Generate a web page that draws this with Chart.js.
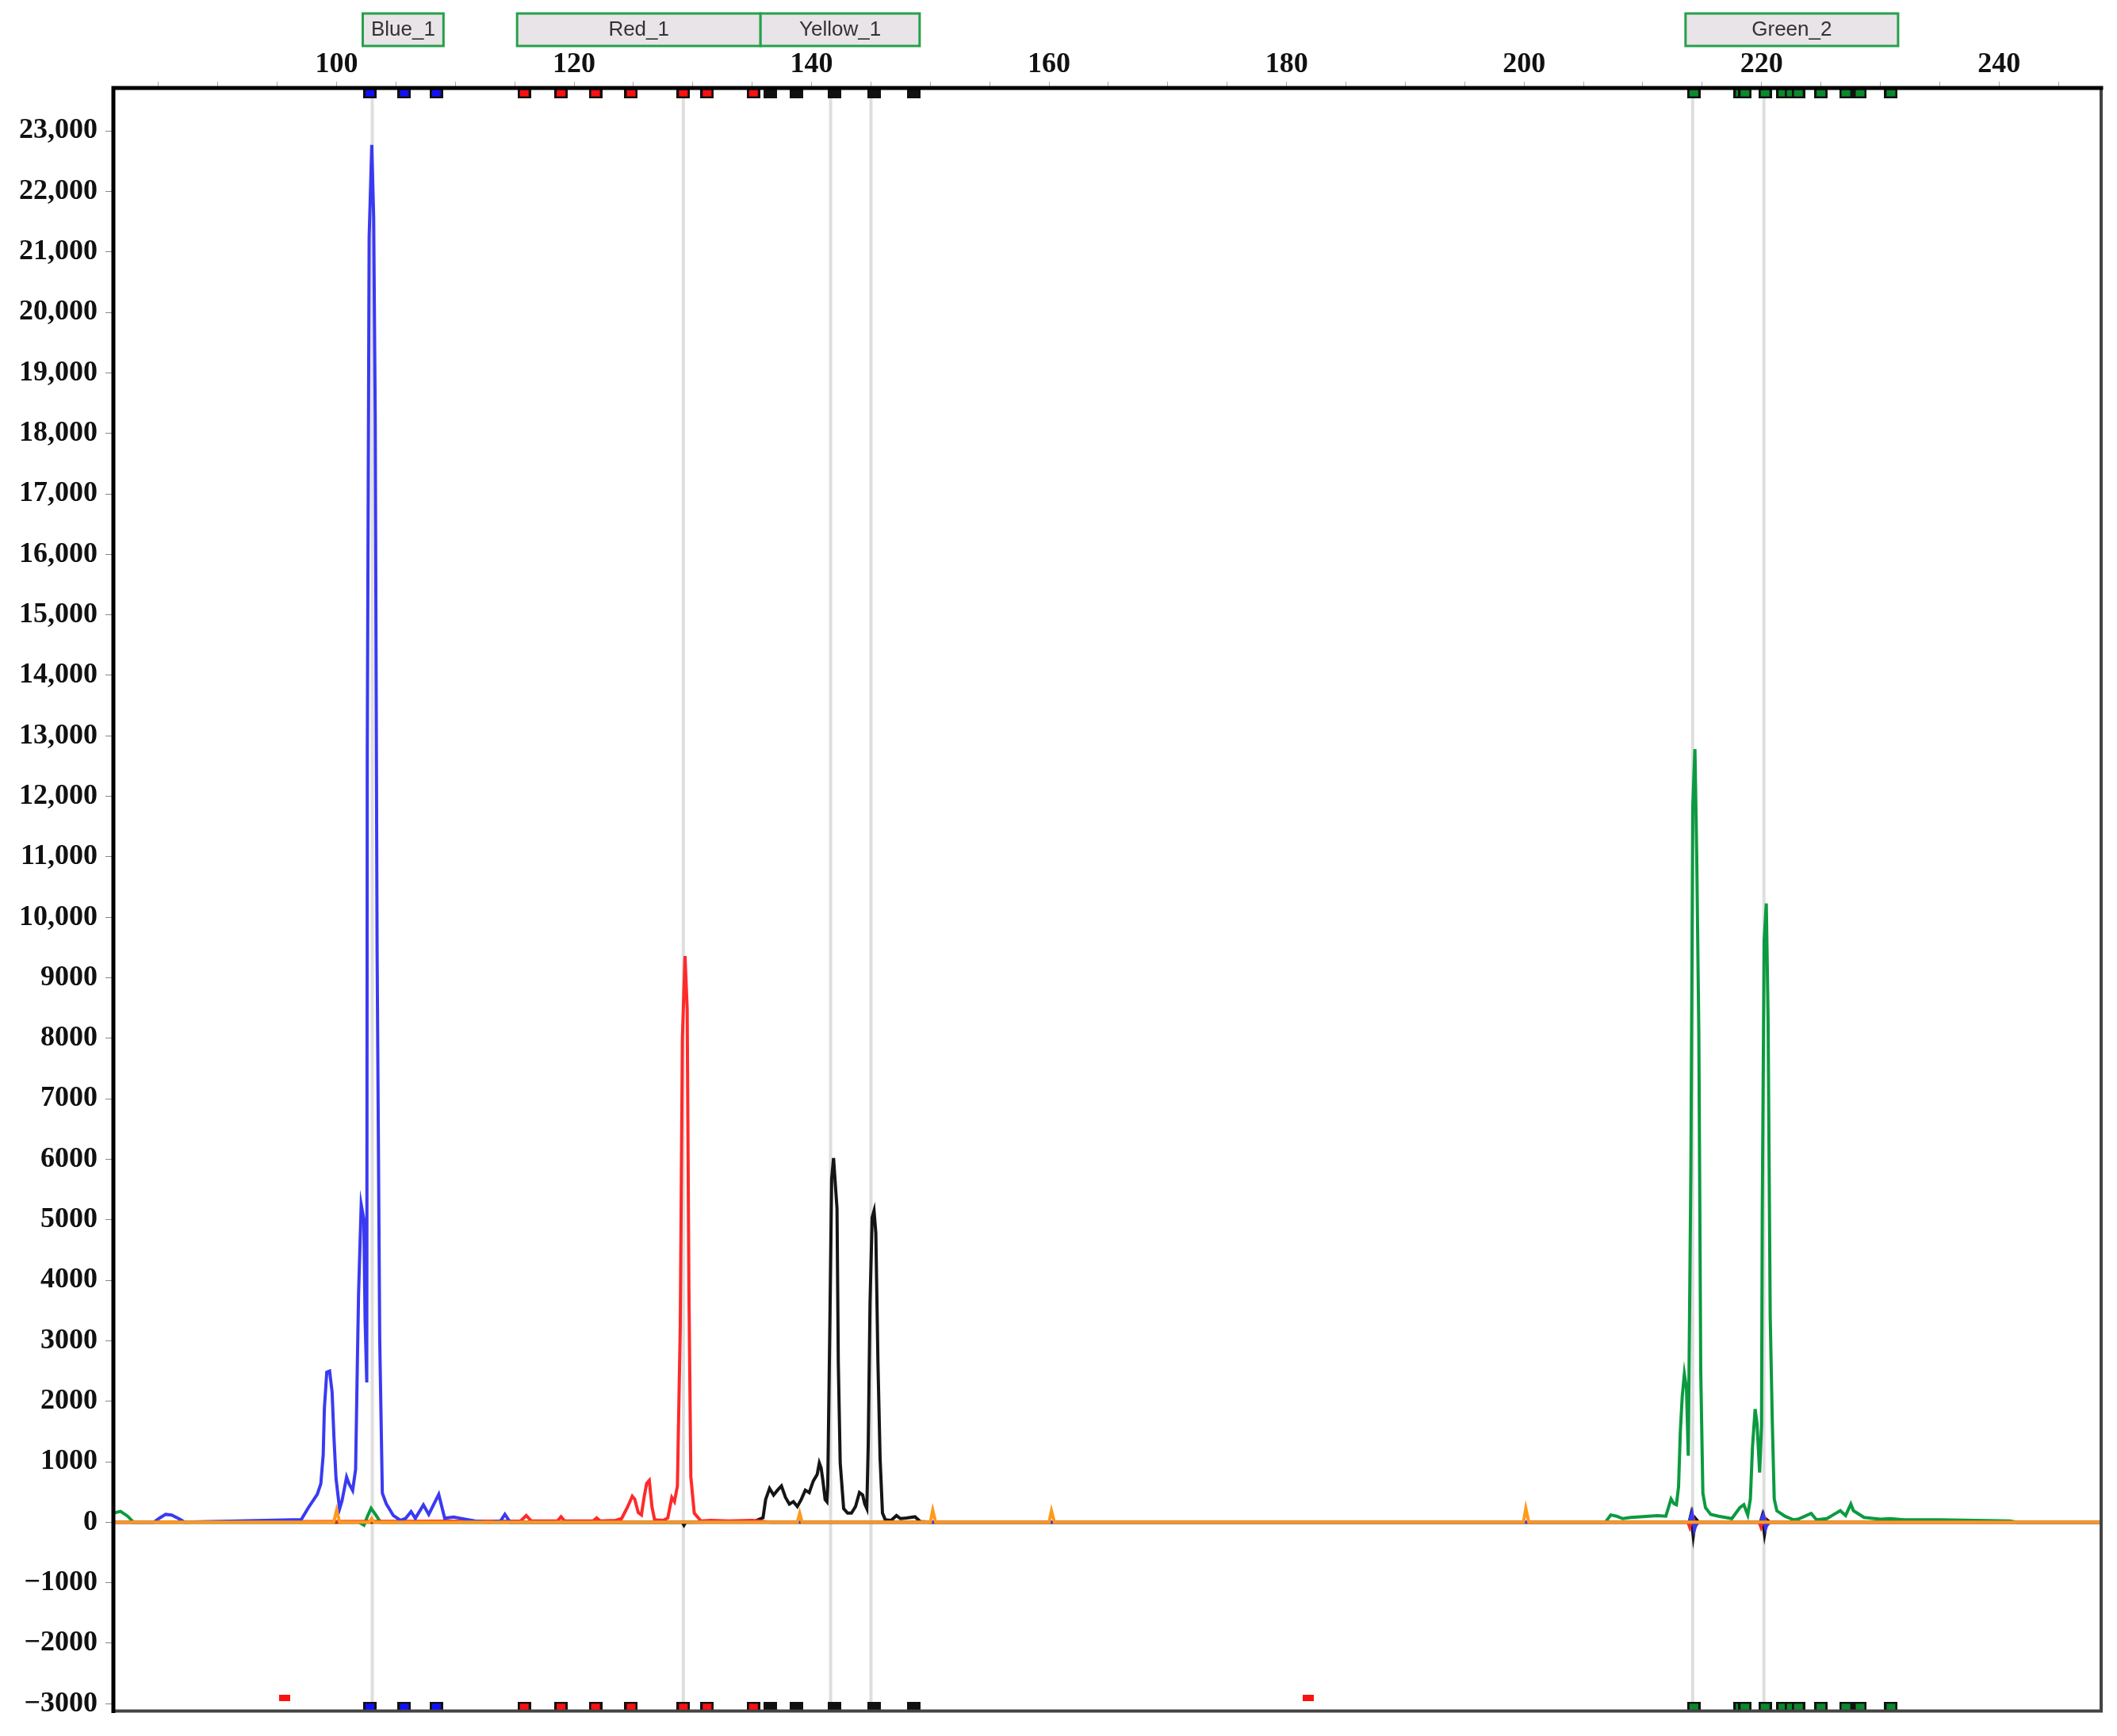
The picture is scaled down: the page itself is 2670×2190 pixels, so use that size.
<!DOCTYPE html>
<html>
<head>
<meta charset="utf-8">
<script src="https://cdn.jsdelivr.net/npm/chart.js@4.4.1/dist/chart.umd.min.js"></script>
<style>
  html, body { margin: 0; padding: 0; background: #fff; }
</style>
</head>
<body>
<canvas id="myChart" width="2670" height="2190"></canvas>
<script>
// 各色のトレース (bp, RFU)
const blueBp = [81.2, 84.6, 85.1, 85.6, 86.1, 86.7, 87.2, 97.03, 97.62, 98.37, 98.67, 98.87, 98.97, 99.17, 99.41, 99.62, 99.77, 99.95, 100.25, 100.45, 100.84, 101.05, 101.35, 101.6, 101.74, 101.85, 102.07, 102.29, 102.4, 102.54, 102.58, 102.74, 102.96, 103.12, 103.25, 103.41, 103.63, 103.85, 104.18, 104.78, 105.38, 105.82, 106.27, 106.63, 107.31, 107.76, 108.6, 109.1, 109.85, 110.44, 111.64, 112.83, 113.8, 114.17, 114.62, 213.9, 214.15, 214.35, 214.55, 219.9, 220.15, 220.35, 220.55, 248.6]
const blueRfu = [0, 0, 70, 130, 120, 60, 0, 45, 240, 460, 635, 1115, 1885, 2480, 2500, 2150, 1425, 725, 220, 350, 745, 635, 525, 875, 2555, 3790, 5250, 5010, 3340, 2310, 12660, 21250, 22770, 21570, 18310, 9390, 3020, 480, 305, 110, 30, 65, 175, 65, 285, 130, 460, 65, 85, 65, 20, 0, 20, 130, 0, 0, 150, -120, 0, 0, 120, -100, 0, 0]

const redBp = [81.2, 115.5, 115.97, 116.4, 118.6, 118.9, 119.2, 121.6, 121.9, 122.2, 123.5, 124.0, 124.5, 124.9, 125.11, 125.4, 125.67, 125.9, 126.11, 126.33, 126.56, 126.78, 127.5, 127.89, 128.23, 128.45, 128.7, 128.94, 129.12, 129.34, 129.52, 129.67, 129.83, 130.12, 130.68, 131.5, 133.0, 135.0, 136.5, 213.8, 213.95, 214.2, 214.45, 214.7, 219.8, 219.95, 220.2, 220.45, 220.7, 248.6]
const redRfu = [0, 20, 110, 20, 20, 90, 20, 20, 70, 20, 30, 60, 250, 430, 380, 160, 120, 420, 640, 690, 250, 40, 30, 70, 410, 340, 600, 3230, 8010, 9360, 8500, 3835, 750, 150, 20, 30, 20, 30, 0, 0, -80, 100, -60, 0, 0, -80, 100, -50, 0, 0]

const blackBp = [81.2, 129.1, 129.25, 129.4, 135.13, 135.91, 136.13, 136.46, 136.8, 137.13, 137.46, 137.8, 138.13, 138.47, 138.8, 139.13, 139.47, 139.8, 140.14, 140.47, 140.65, 140.8, 140.96, 141.14, 141.29, 141.36, 141.54, 141.69, 141.85, 141.98, 142.14, 142.25, 142.41, 142.7, 143.03, 143.36, 143.7, 144.03, 144.3, 144.48, 144.65, 144.77, 144.92, 145.1, 145.26, 145.41, 145.59, 145.77, 145.97, 146.21, 146.7, 147.15, 147.48, 148.0, 148.71, 149.15, 150.0, 213.9, 214.05, 214.25, 214.45, 214.7, 219.9, 220.05, 220.25, 220.45, 220.7, 248.6]
const blackRfu = [0, 0, -50, 0, 10, 75, 376, 560, 450, 530, 600, 410, 300, 340, 260, 376, 530, 490, 680, 790, 980, 900, 680, 376, 340, 600, 3310, 5680, 6020, 5640, 5190, 2630, 980, 225, 150, 150, 260, 490, 450, 300, 225, 1280, 3610, 5040, 5150, 4780, 2630, 1050, 150, 40, 30, 110, 60, 70, 90, 10, 0, 0, 120, -230, 60, 0, 0, 100, -200, 40, 0, 0]

const greenBp = [81.2, 81.8, 82.4, 82.9, 101.9, 102.3, 102.6, 102.9, 103.3, 103.7, 206.85, 207.3, 207.8, 208.3, 209.0, 209.8, 210.5, 211.2, 211.94, 212.16, 212.38, 212.61, 212.83, 213.01, 213.16, 213.32, 213.5, 213.68, 213.83, 214.05, 214.21, 214.39, 214.54, 214.72, 214.88, 215.06, 215.28, 215.72, 216.39, 217.5, 218.17, 218.51, 218.84, 219.06, 219.24, 219.46, 219.62, 219.84, 220.0, 220.06, 220.22, 220.4, 220.55, 220.73, 220.91, 221.07, 221.29, 221.96, 222.7, 223.07, 224.18, 224.63, 225.5, 226.19, 226.63, 227.08, 227.52, 227.74, 228.63, 230.0, 230.86, 231.97, 235.0, 240.9, 241.5, 248.6]
const greenRfu = [150, 180, 100, 0, 0, -50, 100, 230, 120, 0, 0, 120, 100, 60, 80, 90, 100, 110, 100, 240, 385, 310, 290, 580, 1490, 2070, 2450, 2210, 1100, 5860, 11820, 12780, 11050, 8070, 2500, 480, 240, 130, 100, 60, 240, 290, 120, 385, 1250, 1870, 1630, 820, 1600, 5090, 9610, 10230, 8360, 3410, 1630, 385, 190, 100, 40, 50, 145, 40, 60, 140, 190, 110, 300, 190, 80, 50, 60, 40, 40, 20, 0, 0]

const orangeBp = [81.2, 99.75, 100.0, 100.25, 102.75, 102.95, 103.15, 138.8, 139.0, 139.2, 150.0, 150.2, 150.45, 160.0, 160.2, 160.45, 199.95, 200.15, 200.4, 248.6]
const orangeRfu = [0, 0, 200, 0, 0, 60, 0, 0, 150, 0, 0, 200, 0, 0, 190, 0, 0, 230, 0, 0]

// 軸の目盛り
const xTicks = [85, 90, 95, 100, 105, 110, 115, 120, 125, 130, 135, 140, 145, 150, 155, 160, 165, 170, 175, 180, 185, 190, 195, 200, 205, 210, 215, 220, 225, 230, 235, 240, 245]
const xLabels = [100, 120, 140, 160, 180, 200, 220, 240]
const yTicks = [-3000, -2000, -1000, 0, 1000, 2000, 3000, 4000, 5000, 6000, 7000, 8000, 9000, 10000, 11000, 12000, 13000, 14000, 15000, 16000, 17000, 18000, 19000, 20000, 21000, 22000, 23000]

// ビン (bp)
const binNames = ["Blue_1", "Red_1", "Yellow_1", "Green_2"]
const binStart = [102.2, 115.2, 135.7, 213.6]
const binEnd = [109.0, 135.7, 149.1, 231.5]

const blueMarks = [102.8, 105.7, 108.4]
const redMarks = [115.8, 118.9, 121.8, 124.8, 129.2, 131.2, 135.1]
const blackMarks = [136.5, 138.7, 141.9, 145.3, 148.6]
const greenMarks = [214.3, 218.2, 218.6, 220.3, 221.8, 222.5, 223.1, 225.0, 227.1, 228.3, 230.9]

const peakLines = [103.0, 129.2, 141.6, 145.0, 214.2, 220.2]

const strayBp = [95.6, 181.8]
const strayRfu = [-2900, -2900]

const pts = (xs, ys) => xs.map((x, i) => ({ x: x, y: ys[i] }))

const markImg = (fill, w, h, edge) => {
  const c = document.createElement("canvas")
  c.width = w
  c.height = h
  const g = c.getContext("2d")
  g.fillStyle = edge ? "#111" : fill
  g.fillRect(0, 0, w, h)
  if (edge) {
    g.fillStyle = fill
    g.fillRect(3, 2, w - 6, h - 4)
  }
  return c
}

const markSet = (bps, fill, level) => ({
  data: bps.map((b) => ({ x: b, y: level })),
  yAxisID: "yMark",
  pointStyle: markImg(fill, 17, 12, true),
  pointRadius: 8,
  showLine: false,
  clip: false,
})

const trace = (xs, ys, color) => ({
  data: pts(xs, ys),
  showLine: true,
  borderColor: color,
  borderWidth: 4,
  pointRadius: 0,
  tension: 0,
  fill: false,
})

const yLabel = (v) => {
  let a = Math.abs(v)
  let s = a >= 10000 ? a.toLocaleString("en-US") : String(a)
  return v < 0 ? "\u2212" + s : s
}

const serif = '"Liberation Serif", "Times New Roman", serif'

const deco = {
  id: "deco",
  beforeDatasetsDraw(chart) {
    const { ctx, chartArea: a } = chart
    const x = chart.scales.x
    ctx.save()
    ctx.strokeStyle = "#dedede"
    ctx.lineWidth = 4
    peakLines.forEach((bp) => {
      let px = x.getPixelForValue(bp)
      ctx.beginPath()
      ctx.moveTo(px, a.top)
      ctx.lineTo(px, a.bottom)
      ctx.stroke()
    })
    ctx.restore()
  },
  afterDatasetsDraw(chart) {
    const { ctx, chartArea: a } = chart
    ctx.save()
    ctx.lineCap = "square"
    ctx.strokeStyle = "#444"
    ctx.lineWidth = 4
    ctx.beginPath()
    ctx.moveTo(a.right, a.top)
    ctx.lineTo(a.right, a.bottom)
    ctx.lineTo(a.left, a.bottom)
    ctx.stroke()
    ctx.strokeStyle = "#000"
    ctx.lineWidth = 5
    ctx.beginPath()
    ctx.moveTo(a.left, a.bottom)
    ctx.lineTo(a.left, a.top)
    ctx.lineTo(a.right, a.top)
    ctx.stroke()
    ctx.restore()
  },
  afterDraw(chart) {
    const { ctx } = chart
    const x = chart.scales.x
    ctx.save()
    ctx.font = '26px "Liberation Sans", Arial, sans-serif'
    ctx.textAlign = "center"
    ctx.textBaseline = "middle"
    binNames.forEach((name, i) => {
      let x0 = x.getPixelForValue(binStart[i])
      let x1 = x.getPixelForValue(binEnd[i])
      ctx.fillStyle = "#e8e4e8"
      ctx.fillRect(x0, 17, x1 - x0, 41)
      ctx.strokeStyle = "#27a04a"
      ctx.lineWidth = 3
      ctx.strokeRect(x0, 17, x1 - x0, 41)
      ctx.fillStyle = "#333"
      ctx.fillText(name, (x0 + x1) / 2, 38)
    })
    ctx.restore()
  },
}

const ctx = document.getElementById("myChart")

new Chart(ctx, {
  type: "scatter",
  data: {
    datasets: [
      markSet(blueMarks, "#1010ff", 0.9968),
      markSet(redMarks, "#ff1010", 0.9968),
      markSet(blackMarks, "#111", 0.9968),
      markSet(greenMarks, "#0a8a2a", 0.9968),
      markSet(blueMarks, "#1010ff", 0.0025),
      markSet(redMarks, "#ff1010", 0.0025),
      markSet(blackMarks, "#111", 0.0025),
      markSet(greenMarks, "#0a8a2a", 0.0025),
      {
        data: pts(strayBp, strayRfu),
        pointStyle: markImg("#ff1010", 14, 8, false),
        pointRadius: 7,
        showLine: false,
      },
      trace(orangeBp, orangeRfu, "#ff9a1a"),
      trace(blueBp, blueRfu, "#3a3af2"),
      trace(redBp, redRfu, "#ff2a2a"),
      trace(blackBp, blackRfu, "#151515"),
      trace(greenBp, greenRfu, "#0c9a40"),
    ],
  },
  options: {
    responsive: false,
    animation: false,
    events: [],
    layout: { padding: { left: 0, right: 20, top: 0, bottom: 31 } },
    plugins: { legend: { display: false }, tooltip: { enabled: false } },
    scales: {
      x: {
        type: "linear",
        position: "top",
        min: 81.2,
        max: 248.6,
        afterFit: (s) => {
          s.height = 111
        },
        afterBuildTicks: (s) => {
          s.ticks = xTicks.map((v) => ({ value: v }))
        },
        ticks: {
          autoSkip: false,
          maxRotation: 0,
          padding: 0,
          color: "#111",
          font: { family: serif, size: 36, weight: "bold" },
          callback: (v) => (xLabels.includes(Math.round(v)) ? String(Math.round(v)) : ""),
        },
        grid: { drawOnChartArea: false, tickLength: 8, color: "#aaa" },
        border: { display: false },
      },
      y: {
        min: -3120,
        max: 23710,
        afterFit: (s) => {
          s.width = 143
        },
        afterBuildTicks: (s) => {
          s.ticks = yTicks.map((v) => ({ value: v }))
        },
        ticks: {
          autoSkip: false,
          padding: 10,
          color: "#111",
          font: { family: serif, size: 36, weight: "bold" },
          callback: yLabel,
        },
        grid: { drawOnChartArea: false, tickLength: 10, color: "#888" },
        border: { display: false },
      },
      yMark: { type: "linear", min: 0, max: 1, display: false },
    },
  },
  plugins: [deco],
})
</script>
</body>
</html>
